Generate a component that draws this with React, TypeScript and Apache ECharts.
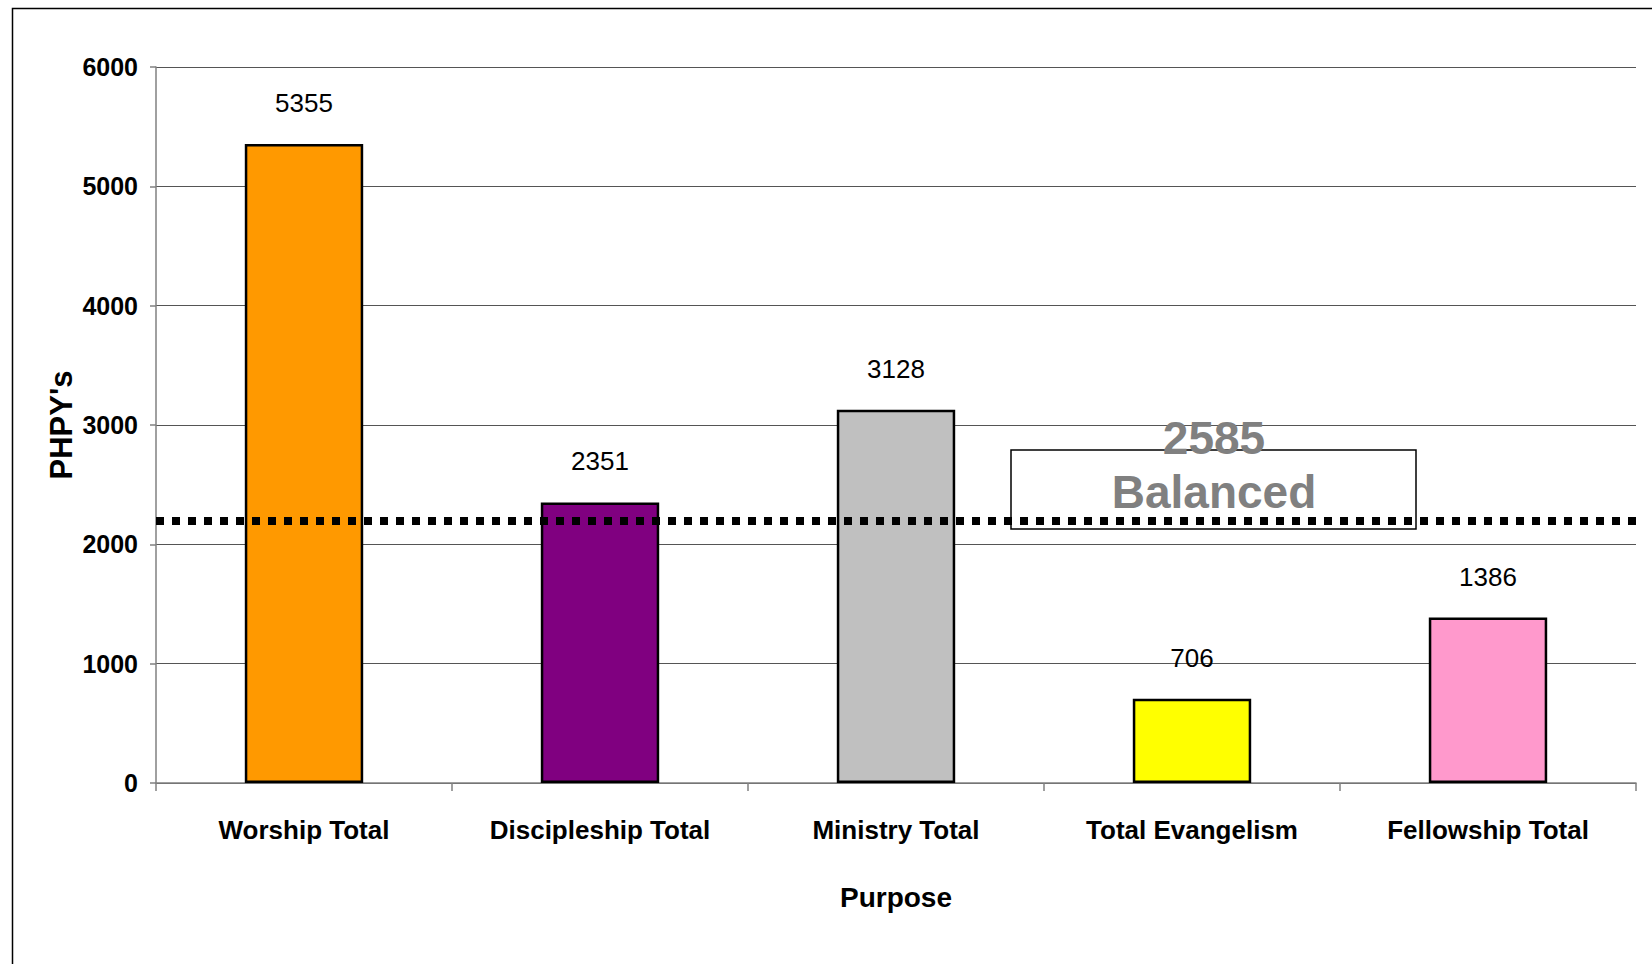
import React, { useEffect, useRef } from "react";
import * as echarts from "echarts";

const categories = ["Worship Total", "Discipleship Total", "Ministry Total", "Total Evangelism", "Fellowship Total"];
const values = [5355, 2351, 3128, 706, 1386];
const barColors = ["#FF9900", "#800080", "#C0C0C0", "#FFFF00", "#FF99CC"];
const balancedLine = 2200;
const boxLines = ["2585", "Balanced"];
const yTicks = { min: 0, max: 6000, interval: 1000 };

const SANS = "'Liberation Sans', Arial, sans-serif";

export default function App() {
  const ref = useRef<HTMLDivElement>(null);
  useEffect(() => {
    if (!ref.current) return;
    const chart = echarts.init(ref.current, null, { renderer: "svg" });
    chart.setOption({
      animation: false,
      backgroundColor: "#fff",
      grid: { left: 156, top: 67, width: 1480, height: 716, containLabel: false },
      xAxis: {
        type: "category",
        data: categories,
        name: "Purpose",
        nameLocation: "middle",
        nameGap: 100,
        nameMoveOverlap: false,
        nameTextStyle: { fontFamily: SANS, fontWeight: "bold", fontSize: 28, color: "#000", verticalAlign: "top" },
        axisLine: { show: true, lineStyle: { color: "#808080", width: 1.5 } },
        axisTick: { show: true, length: 8, lineStyle: { color: "#808080", width: 1.5 } },
        axisLabel: { interval: 0, fontFamily: SANS, fontWeight: "bold", fontSize: 26, color: "#000", margin: 34 },
        splitLine: { show: false },
      },
      yAxis: {
        type: "value",
        min: yTicks.min,
        max: yTicks.max,
        interval: yTicks.interval,
        name: "PHPY's",
        nameLocation: "middle",
        nameGap: 79,
        nameMoveOverlap: false,
        nameTextStyle: { fontFamily: SANS, fontWeight: "bold", fontSize: 31, color: "#000" },
        axisLine: { show: true, lineStyle: { color: "#808080", width: 1.5 } },
        axisTick: { show: true, length: 6, lineStyle: { color: "#808080", width: 1.5 } },
        axisLabel: {
          fontFamily: SANS,
          fontWeight: "bold",
          fontSize: 25,
          color: "#000",
          margin: 18,
          formatter: (v: number) => String(v),
        },
        splitLine: { show: true, lineStyle: { color: "#555", width: 1.2 } },
      },
      series: [
        {
          type: "bar",
          data: values.map((v, i) => ({ value: v, itemStyle: { color: barColors[i] } })),
          barWidth: "40%",
          itemStyle: { borderColor: "#000", borderWidth: 2.5 },
          label: {
            show: true,
            position: "top",
            distance: 28,
            fontFamily: SANS,
            fontSize: 26,
            color: "#000",
          },
          markLine: {
            silent: true,
            symbol: "none",
            label: { show: false },
            lineStyle: { color: "#000", width: 8, type: [8, 8] },
            data: [{ yAxis: balancedLine }],
            z: 5,
          },
          z: 2,
        },
      ],
      graphic: [
        {
          type: "rect",
          left: 10,
          top: 6,
          shape: { width: 1700, height: 1000 },
          style: { fill: "none", stroke: "#000", lineWidth: 1.5 },
          z: 0,
          silent: true,
        },
        {
          type: "rect",
          x: 1011,
          y: 450,
          shape: { width: 405, height: 79 },
          style: { fill: "#fff", stroke: "#000", lineWidth: 1.5 },
          z: 1,
          silent: true,
        },
        {
          type: "text",
          x: 1214,
          y: 438,
          style: {
            text: boxLines[0],
            fontFamily: SANS,
            fontWeight: "bold",
            fontSize: 46,
            fill: "#808080",
            align: "center",
            verticalAlign: "middle",
          },
          z: 10,
        },
        {
          type: "text",
          x: 1214,
          y: 492,
          style: {
            text: boxLines[1],
            fontFamily: SANS,
            fontWeight: "bold",
            fontSize: 46,
            fill: "#808080",
            align: "center",
            verticalAlign: "middle",
          },
          z: 10,
        },
      ],
    });
    return () => chart.dispose();
  }, []);
  return <div ref={ref} style={{ position: "fixed", left: 0, top: 0, width: 1652, height: 964 }} />;
}
